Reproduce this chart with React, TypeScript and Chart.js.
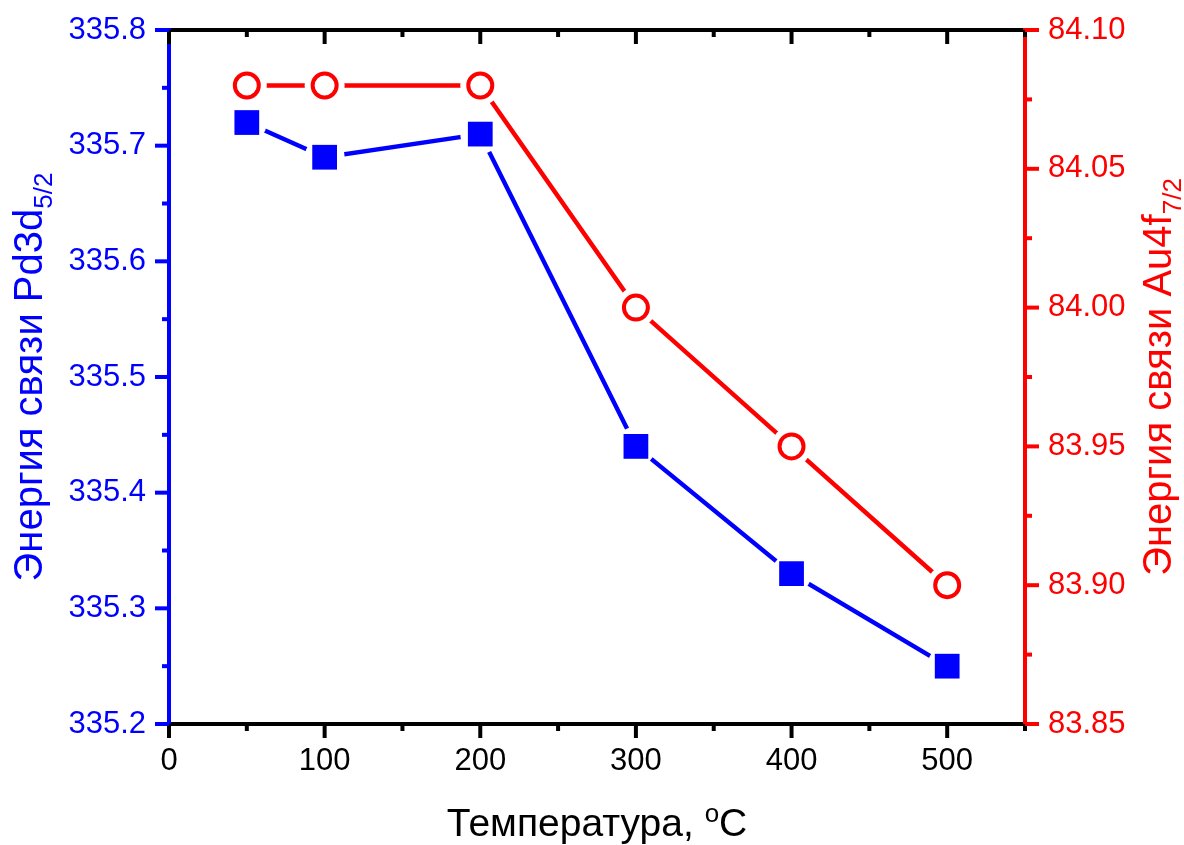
import React, { useEffect, useRef } from 'react';
import { Chart, registerables } from 'chart.js';

Chart.register(...registerables);

// ---- data ----
const temperatures = [50, 100, 200, 300, 400, 500];
const pdBinding = [335.72, 335.69, 335.71, 335.44, 335.33, 335.25];
const auBinding = [84.08, 84.08, 84.08, 84.0, 83.95, 83.9];

const xTicks = [0, 100, 200, 300, 400, 500];
const pdTicks = [335.2, 335.3, 335.4, 335.5, 335.6, 335.7, 335.8];
const auTicks = [83.85, 83.9, 83.95, 84.0, 84.05, 84.1];

const xRange = [0, 550];
const pdRange = [335.2, 335.8];
const auRange = [83.85, 84.1];

const xTitle = 'Температура, ';
const xTitleSup = 'o';
const xTitleEnd = 'C';
const yLeftTitle = 'Энергия связи Pd3d';
const yLeftSub = '5/2';
const yRightTitle = 'Энергия связи Au4f';
const yRightSub = '7/2';

const BLUE = '#0000ff';
const RED = '#ff0000';
const BLACK = '#000000';
const FONT = '"Liberation Sans", Arial, sans-serif';
const TICK_FONT = 31;

const W = 1184;
const H = 845;

const pts = (ys: number[]) => temperatures.map((x, i) => ({ x, y: ys[i] }));

function minorValues(majors: number[], max: number) {
  const out: number[] = [];
  for (let i = 0; i < majors.length - 1; i++) out.push((majors[i] + majors[i + 1]) / 2);
  const step = majors[1] - majors[0];
  const extra = majors[majors.length - 1] + step / 2;
  if (extra <= max + 1e-9) out.push(extra);
  return out;
}

const tickPlugin = {
  id: 'customTicks',
  afterDraw(chart: any) {
    const ctx = chart.ctx as CanvasRenderingContext2D;
    const a = chart.chartArea;
    const sx = chart.scales.x;
    const yl = chart.scales.yL;
    const yr = chart.scales.yR;
    const MAJ = 14;
    const MIN = 7;
    ctx.save();
    ctx.lineWidth = 4;
    ctx.lineCap = 'butt';
    const vline = (x: number, y0: number, y1: number, c: string) => {
      ctx.strokeStyle = c;
      ctx.beginPath();
      ctx.moveTo(x, y0);
      ctx.lineTo(x, y1);
      ctx.stroke();
    };
    const hline = (y: number, x0: number, x1: number, c: string) => {
      ctx.strokeStyle = c;
      ctx.beginPath();
      ctx.moveTo(x0, y);
      ctx.lineTo(x1, y);
      ctx.stroke();
    };
    xTicks.forEach((v) => {
      const px = sx.getPixelForValue(v);
      vline(px, a.bottom, a.bottom + MAJ, BLACK);
      vline(px, a.top, a.top + MAJ, BLACK);
    });
    minorValues(xTicks, xRange[1]).forEach((v) => {
      const px = sx.getPixelForValue(v);
      vline(px, a.bottom, a.bottom + MIN, BLACK);
      vline(px, a.top, a.top + MIN, BLACK);
    });
    pdTicks.forEach((v) => hline(yl.getPixelForValue(v), a.left, a.left - MAJ, BLUE));
    minorValues(pdTicks, pdRange[1]).forEach((v) => hline(yl.getPixelForValue(v), a.left, a.left - MIN, BLUE));
    auTicks.forEach((v) => hline(yr.getPixelForValue(v), a.right, a.right + MAJ, RED));
    minorValues(auTicks, auRange[1]).forEach((v) => hline(yr.getPixelForValue(v), a.right, a.right + MIN, RED));
    ctx.restore();
  },
};

function drawRotatedTitle(
  ctx: CanvasRenderingContext2D,
  baseX: number,
  centerY: number,
  main: string,
  sub: string,
  color: string,
  size: number,
  subSize: number,
  drop: number
) {
  ctx.save();
  ctx.fillStyle = color;
  ctx.textBaseline = 'alphabetic';
  ctx.textAlign = 'left';
  ctx.font = `${size}px ${FONT}`;
  const w1 = ctx.measureText(main).width;
  ctx.font = `${subSize}px ${FONT}`;
  const w2 = ctx.measureText(sub).width;
  const total = w1 + w2;
  ctx.translate(baseX, centerY);
  ctx.rotate(-Math.PI / 2);
  ctx.font = `${size}px ${FONT}`;
  ctx.fillText(main, -total / 2, 0);
  ctx.font = `${subSize}px ${FONT}`;
  ctx.fillText(sub, -total / 2 + w1, drop);
  ctx.restore();
}

const titlePlugin = {
  id: 'customTitles',
  afterDraw(chart: any) {
    const ctx = chart.ctx as CanvasRenderingContext2D;
    const a = chart.chartArea;
    const cy = (a.top + a.bottom) / 2;
    ctx.save();
    ctx.fillStyle = BLACK;
    ctx.textBaseline = 'alphabetic';
    ctx.textAlign = 'left';
    const fs = 39;
    const ss = 26;
    ctx.font = `${fs}px ${FONT}`;
    const w1 = ctx.measureText(xTitle).width;
    const w3 = ctx.measureText(xTitleEnd).width;
    ctx.font = `${ss}px ${FONT}`;
    const w2 = ctx.measureText(xTitleSup).width;
    const total = w1 + w2 + w3;
    const cx = (a.left + a.right) / 2;
    let x = cx - total / 2;
    const by = 836;
    ctx.font = `${fs}px ${FONT}`;
    ctx.fillText(xTitle, x, by);
    x += w1;
    ctx.font = `${ss}px ${FONT}`;
    ctx.fillText(xTitleSup, x, by - 14);
    x += w2;
    ctx.font = `${fs}px ${FONT}`;
    ctx.fillText(xTitleEnd, x, by);
    ctx.restore();

    drawRotatedTitle(ctx, 42, cy, yLeftTitle, yLeftSub, BLUE, 40, 26, 10);
    drawRotatedTitle(ctx, 1171, cy, yRightTitle, yRightSub, RED, 40, 26, 10);
  },
};

const noPad = (s: any) => {
  s.paddingTop = 0;
  s.paddingBottom = 0;
  s.paddingLeft = 0;
  s.paddingRight = 0;
};

export default function App() {
  const ref = useRef<HTMLCanvasElement | null>(null);

  useEffect(() => {
    if (!ref.current) return;
    const chart = new Chart(ref.current, {
      type: 'scatter',
      data: {
        datasets: [
          {
            label: 'Pd line',
            data: pts(pdBinding),
            yAxisID: 'yL',
            showLine: true,
            borderColor: BLUE,
            borderWidth: 4.5,
            pointRadius: 0,
            order: 6,
          },
          {
            label: 'Au line',
            data: pts(auBinding),
            yAxisID: 'yR',
            showLine: true,
            borderColor: RED,
            borderWidth: 4.5,
            pointRadius: 0,
            order: 5,
          },
          {
            label: 'Pd gap',
            data: pts(pdBinding),
            yAxisID: 'yL',
            showLine: false,
            pointStyle: 'circle',
            pointRadius: 20,
            pointBackgroundColor: '#ffffff',
            pointBorderWidth: 0,
            pointBorderColor: '#ffffff',
            order: 4,
          },
          {
            label: 'Au gap',
            data: pts(auBinding),
            yAxisID: 'yR',
            showLine: false,
            pointStyle: 'circle',
            pointRadius: 20,
            pointBackgroundColor: '#ffffff',
            pointBorderWidth: 0,
            pointBorderColor: '#ffffff',
            order: 3,
          },
          {
            label: 'Pd3d5/2',
            data: pts(pdBinding),
            yAxisID: 'yL',
            showLine: false,
            pointStyle: 'rect',
            pointRadius: 17.5,
            pointBackgroundColor: BLUE,
            pointBorderColor: BLUE,
            pointBorderWidth: 0,
            order: 2,
          },
          {
            label: 'Au4f7/2',
            data: pts(auBinding),
            yAxisID: 'yR',
            showLine: false,
            pointStyle: 'circle',
            pointRadius: 12,
            pointBackgroundColor: '#ffffff',
            pointBorderColor: RED,
            pointBorderWidth: 4,
            order: 1,
          },
        ],
      },
      options: {
        responsive: false,
        animation: false,
        devicePixelRatio: 1,
        layout: { padding: 0, autoPadding: false },
        plugins: {
          legend: { display: false },
          tooltip: { enabled: false },
          title: { display: false },
        },
        scales: {
          x: {
            type: 'linear',
            position: 'bottom',
            min: xRange[0],
            max: xRange[1],
            afterBuildTicks: (s: any) => {
              s.ticks = xTicks.map((v) => ({ value: v }));
            },
            afterFit: (s: any) => {
              s.height = H - 724;
              noPad(s);
            },
            ticks: {
              color: BLACK,
              font: { family: FONT, size: TICK_FONT },
              padding: 19,
              maxRotation: 0,
              autoSkip: false,
              callback: (v: any) => String(v),
            },
            grid: { display: false, drawTicks: false },
            border: { display: true, color: BLACK, width: 4 },
          },
          x2: {
            type: 'linear',
            position: 'top',
            min: xRange[0],
            max: xRange[1],
            afterBuildTicks: (s: any) => {
              s.ticks = xTicks.map((v) => ({ value: v }));
            },
            afterFit: (s: any) => {
              s.height = 30;
              noPad(s);
            },
            ticks: { display: false },
            grid: { display: false, drawTicks: false },
            border: { display: true, color: BLACK, width: 4 },
          },
          yL: {
            type: 'linear',
            position: 'left',
            min: pdRange[0],
            max: pdRange[1],
            afterBuildTicks: (s: any) => {
              s.ticks = pdTicks.map((v) => ({ value: v }));
            },
            afterFit: (s: any) => {
              s.width = 169;
              noPad(s);
            },
            ticks: {
              color: BLUE,
              font: { family: FONT, size: TICK_FONT },
              padding: 23,
              autoSkip: false,
              callback: (v: any) => Number(v).toFixed(1),
            },
            grid: { display: false, drawTicks: false },
            border: { display: true, color: BLUE, width: 4 },
          },
          yR: {
            type: 'linear',
            position: 'right',
            min: auRange[0],
            max: auRange[1],
            afterBuildTicks: (s: any) => {
              s.ticks = auTicks.map((v) => ({ value: v }));
            },
            afterFit: (s: any) => {
              s.width = W - 1025;
              noPad(s);
            },
            ticks: {
              color: RED,
              font: { family: FONT, size: TICK_FONT },
              padding: 23,
              autoSkip: false,
              callback: (v: any) => Number(v).toFixed(2),
            },
            grid: { display: false, drawTicks: false },
            border: { display: true, color: RED, width: 4 },
          },
        },
      } as any,
      plugins: [tickPlugin, titlePlugin],
    });
    return () => chart.destroy();
  }, []);

  return (
    <div style={{ position: 'absolute', left: 0, top: 0, width: W, height: H, background: '#ffffff' }}>
      <canvas ref={ref} width={W} height={H} style={{ display: 'block' }} />
    </div>
  );
}
